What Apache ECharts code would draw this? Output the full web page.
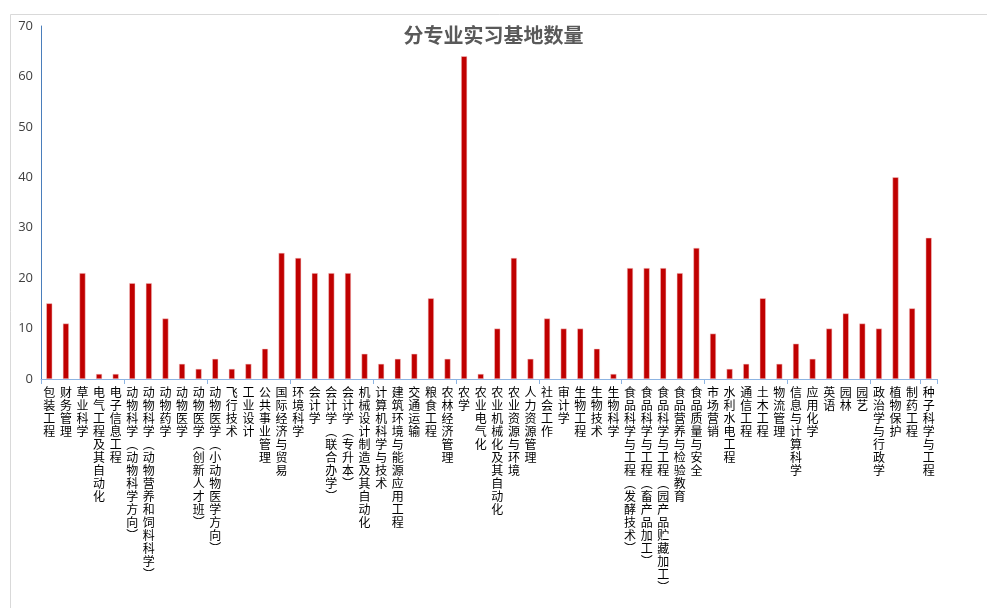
<!DOCTYPE html>
<html>
<head>
<meta charset="utf-8">
<title>分专业实习基地数量</title>
<script src="https://cdn.jsdelivr.net/npm/echarts@6/dist/echarts.min.js"></script>
<style>
    html, body { margin: 0; padding: 0; background: #fff; }
    #mainChart { width: 987px; height: 608px; }
</style>
</head>
<body>
<div id="mainChart"></div>
<script>
// 专业名称（X轴）
var majors = ["包装工程", "财务管理", "草业科学", "电气工程及其自动化", "电子信息工程",
    "动物科学（动物科学方向）", "动物科学（动物营养和饲料科学）", "动物药学", "动物医学", "动物医学（创新人才班）",
    "动物医学（小动物医学方向）", "飞行技术", "工业设计", "公共事业管理", "国际经济与贸易",
    "环境科学", "会计学", "会计学（联合办学）", "会计学（专升本）", "机械设计制造及其自动化",
    "计算机科学与技术", "建筑环境与能源应用工程", "交通运输", "粮食工程", "农林经济管理",
    "农学", "农业电气化", "农业机械化及其自动化", "农业资源与环境", "人力资源管理",
    "社会工作", "审计学", "生物工程", "生物技术", "生物科学",
    "食品科学与工程（发酵技术）", "食品科学与工程（畜产品加工）", "食品科学与工程（园产品贮藏加工）", "食品营养与检验教育", "食品质量与安全",
    "市场营销", "水利水电工程", "通信工程", "土木工程", "物流管理",
    "信息与计算科学", "应用化学", "英语", "园林", "园艺",
    "政治学与行政学", "植物保护", "制药工程", "种子科学与工程"];
// 实习基地数量（Y轴）
var baseNums = [15, 11, 21, 1, 1,
    19, 19, 12, 3, 2,
    4, 2, 3, 6, 25,
    24, 21, 21, 21, 5,
    3, 4, 5, 16, 4,
    64, 1, 10, 24, 4,
    12, 10, 10, 6, 1,
    22, 22, 22, 21, 26,
    9, 2, 3, 16, 3,
    7, 4, 10, 13, 11,
    10, 40, 14, 28];
var yMax = 70, yStep = 10;

mainChartShow();

function mainChartShow() {
    var n = echarts.init(document.getElementById("mainChart"));
    n.setOption({
        backgroundColor: "#fff",
        animation: false,
        title: {
            text: "分专业实习基地数量", left: "center", top: 20,
            textStyle: { color: "#595959", fontSize: 20, fontWeight: "bold", fontFamily: "Noto Sans CJK SC" }
        },
        graphic: [{
            type: "rect", left: 8, top: 12, silent: true,
            shape: { width: 1000, height: 700 },
            style: { fill: "none", stroke: "#D9D9D9", lineWidth: 1 }
        }],
        grid: { left: 41, right: 50, top: 26, bottom: 229 },
        xAxis: [{
            type: "category",
            data: majors,
            boundaryGap: true,
            axisLine: { lineStyle: { color: "#8DB4E2", width: 1 } },
            axisTick: { show: true, interval: 4, length: 5, lineStyle: { color: "#8DB4E2" } },
            splitLine: { show: false },
            axisLabel: {//竖排文字
                interval: 0, margin: 7,
                color: "#000", fontSize: 12, lineHeight: 13,
                fontFamily: "Noto Sans CJK SC",
                verticalAlign: "top",
                formatter: function (v) {
                    return v.replace(/（/g, "︵").replace(/）/g, "︶").split("").join("\n");
                }
            }
        }],
        yAxis: [{
            type: "value", min: 0, max: yMax, interval: yStep,
            axisLine: { show: true, lineStyle: { color: "#4A7EBB", width: 1 } },
            axisTick: { show: false },
            splitLine: { show: false },//去除网格线
            axisLabel: { color: "#404040", fontSize: 13, margin: 8, fontFamily: "Open Sans" }
        }],
        series: [{
            name: "实习基地数量",
            type: "bar",
            barWidth: 6,
            data: baseNums,
            itemStyle: { color: "#C00000", borderColor: "#F4CCCC", borderWidth: 0.5 }
        }]
    });
}
</script>
</body>
</html>
